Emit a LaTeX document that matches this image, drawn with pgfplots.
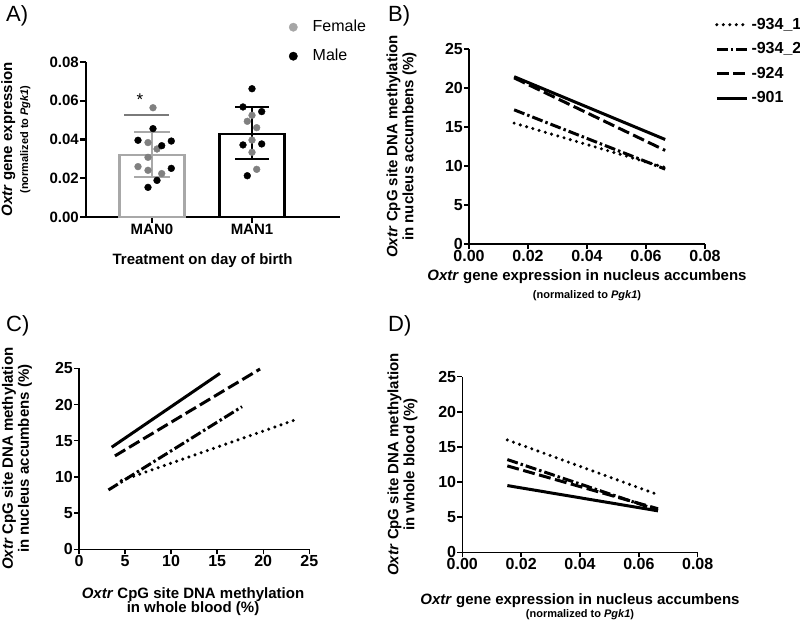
\documentclass[border=0pt]{standalone}
\usepackage{fontspec}
\setmainfont{Liberation Sans}
\usepackage{pgfplots}
\pgfplotsset{compat=1.18}

\definecolor{femgray}{HTML}{808080}
\definecolor{femleg}{HTML}{A6A6A6}
\definecolor{barg}{HTML}{A8A8A8}
\definecolor{sigg}{HTML}{7A7A7A}

\newcommand\lab{\bfseries\fontsize{15}{16}\selectfont}
\newcommand\sm{\fontsize{11}{12}\selectfont}

\pgfplotsset{
  panel/.style={
    scale only axis, clip=false,
    axis lines*=left,
    axis line style={line width=1.4pt},
    tick style={line width=1.4pt, black},
    tick align=outside, major tick length=5pt,
    /pgf/number format/assume math mode=true,
    tick label style={font=\bfseries\fontsize{16}{16}\selectfont},
    xticklabel style={inner sep=1pt},
    yticklabel style={inner sep=1pt},
    xlabel style={align=center, font=\lab, inner sep=0pt},
    ylabel style={align=center, font=\lab, inner sep=0pt},
  },
  dec/.style={/pgf/number format/.cd, fixed, fixed zerofill, precision=2},
  s1/.style={black, line width=3.4pt, line cap=round, dash pattern=on 0pt off 6.5pt},
  s2/.style={black, line width=3pt, line cap=butt, dash pattern=on 11pt off 3pt on 2.5pt off 3pt},
  s3/.style={black, line width=3pt, line cap=butt, dash pattern=on 12pt off 4.5pt},
  s4/.style={black, line width=3pt},
}

\begin{document}
\begin{tikzpicture}
\useasboundingbox (0pt,0pt) rectangle (800pt,623pt);

\node[anchor=base west, inner sep=0, font=\fontsize{22}{22}\selectfont] at (6pt,601pt) {A)};
\node[anchor=base west, inner sep=0, font=\fontsize{22}{22}\selectfont] at (388pt,601pt) {B)};
\node[anchor=base west, inner sep=0, font=\fontsize{22}{22}\selectfont] at (6pt,291pt) {C)};
\node[anchor=base west, inner sep=0, font=\fontsize{22}{22}\selectfont] at (388pt,291pt) {D)};

% ---------------- A) bar chart with points
\begin{axis}[panel,
  at={(86pt,406pt)}, anchor=south west, width=254pt, height=155pt,
  axis line style={line width=2.3pt}, tick style={line width=2.3pt, black},
  major tick length=6pt,
  tick label style={font=\bfseries\fontsize{15}{15}\selectfont},
  xmin=-0.66, xmax=1.88, ymin=0, ymax=0.08,
  xtick={0,1}, xticklabels={MAN0,MAN1},
  ytick={0,0.02,0.04,0.06,0.08}, scaled y ticks=false,
  yticklabel style={dec},
  xlabel={Treatment on day of birth},
  xlabel style={at={(axis description cs:0.459,-0.284)}, anchor=center},
  ylabel={\textit{Oxtr} gene expression\\{\sm(normalized to \textit{Pgk1})}},
  ylabel style={at={(axis description cs:-0.276,0.5)}, anchor=center},
  legend style={at={(axis description cs:0.798,1.271)}, anchor=north west,
    draw=none, fill=none, inner sep=0pt, column sep=15pt, row sep=15pt,
    font=\fontsize{16}{16}\selectfont,
    nodes={inner sep=0pt, text height=11pt, text depth=3pt}},
  legend cell align=left,
  legend image code/.code={\fill[#1] (0pt,0pt) circle (4.2pt);},
]
\addlegendimage{femleg, fill=femleg}
\addlegendentry{Female}
\addlegendimage{black, fill=black}
\addlegendentry{Male}

\addplot[ybar, bar shift=0pt, bar width=65pt, draw=barg, fill=white, line width=2.4pt, forget plot]
  coordinates {(0,0.0320)};
\addplot[ybar, bar shift=0pt, bar width=65pt, draw=black, fill=white, line width=2.4pt, forget plot]
  coordinates {(1,0.0428)};

% error bars (mean +- SD)
\addplot[barg, line width=1.8pt, forget plot] coordinates {(0,0.0206) (0,0.0437)};
\addplot[barg, line width=1.8pt, forget plot] coordinates {(-0.18,0.0437) (0.18,0.0437)};
\addplot[barg, line width=1.8pt, forget plot] coordinates {(-0.18,0.0206) (0.18,0.0206)};
\addplot[sigg, line width=1.5pt, forget plot] coordinates {(-0.28,0.0526) (0.17,0.0526)};
\addplot[black, line width=2.3pt, forget plot] coordinates {(1,0.0300) (1,0.0568)};
\addplot[black, line width=2.3pt, forget plot] coordinates {(0.83,0.0568) (1.17,0.0568)};
\addplot[black, line width=2.3pt, forget plot] coordinates {(0.83,0.0300) (1.17,0.0300)};
\node[font=\fontsize{17}{17}\selectfont] at (axis cs:-0.12,0.0605) {*};

% female
\addplot[only marks, mark=*, mark size=3.4pt, color=femgray, forget plot] coordinates {
  (0.01,0.0564) (-0.04,0.0384) (0.05,0.0351) (-0.04,0.0308) (-0.14,0.0260)
  (-0.04,0.0241) (0.097,0.0224)
  (0.953,0.0494) (1.0,0.0525) (1.047,0.0461) (1.0,0.0397) (1.0,0.0334) (1.047,0.0246)};
% male
\addplot[only marks, mark=*, mark size=3.4pt, color=black, forget plot] coordinates {
  (0.01,0.0456) (-0.14,0.0396) (0.097,0.0368) (0.193,0.0392) (0.193,0.0251)
  (0.05,0.0189) (-0.04,0.0153)
  (1.0,0.0662) (0.91,0.0568) (1.097,0.0544) (0.91,0.0372) (1.097,0.0377) (0.953,0.0213)};
\end{axis}

% ---------------- B)
\begin{axis}[panel,
  at={(469pt,379pt)}, anchor=south west, width=236pt, height=195pt,
  xmin=0, xmax=0.08, ymin=0, ymax=25,
  xtick={0,0.02,0.04,0.06,0.08}, scaled x ticks=false, xticklabel style={dec},
  ytick={0,5,10,15,20,25},
  xlabel={\textit{Oxtr} gene expression in nucleus accumbens\\[2pt]{\sm(normalized to \textit{Pgk1})}},
  xlabel style={at={(axis description cs:0.5,-0.133)}, anchor=north},
  ylabel={\textit{Oxtr} CpG site DNA methylation\\in nucleus accumbens (\%)},
  ylabel style={at={(axis description cs:-0.286,0.5)}, anchor=center},
  legend style={at={(axis description cs:1.042,1.164)}, anchor=north west,
    draw=none, fill=none, inner sep=0pt, column sep=3pt, row sep=9.5pt,
    font=\bfseries\fontsize{16}{16}\selectfont,
    nodes={inner sep=0pt, text height=12pt, text depth=3pt}},
  legend cell align=left,
  legend image code/.code={\draw[#1] (0pt,0pt) -- (30pt,0pt);},
]
\addplot[s1] coordinates {(0.0153,15.5) (0.0665,9.8)};
\addlegendentry{-934\_1}
\addplot[s2] coordinates {(0.0153,17.2) (0.0665,9.6)};
\addlegendentry{-934\_2}
\addplot[s3] coordinates {(0.0153,21.3) (0.0665,12.0)};
\addlegendentry{-924}
\addplot[s4] coordinates {(0.0153,21.45) (0.0665,13.4)};
\addlegendentry{-901}
\end{axis}

% ---------------- C)
\begin{axis}[panel,
  at={(79pt,73.7pt)}, anchor=south west, width=230.3pt, height=181pt,
  xmin=0, xmax=25, ymin=0, ymax=25,
  xtick={0,5,10,15,20,25}, ytick={0,5,10,15,20,25},
  xlabel={\textit{Oxtr} CpG site DNA methylation\\[-2pt]in whole blood (\%)},
  xlabel style={at={(axis description cs:0.495,-0.21)}, anchor=north},
  ylabel={\textit{Oxtr} CpG site DNA methylation\\in nucleus accumbens (\%)},
  ylabel style={at={(axis description cs:-0.269,0.5)}, anchor=center},
]
\addplot[s1] coordinates {(4.6,9.5) (23.3,17.8)};
\addplot[s2] coordinates {(3.2,8.2) (17.7,19.7)};
\addplot[s3] coordinates {(3.9,12.9) (19.65,24.9)};
\addplot[s4] coordinates {(3.55,14.1) (15.3,24.3)};
\end{axis}

% ---------------- D)
\begin{axis}[panel,
  at={(462.3pt,70.7pt)}, anchor=south west, width=235.4pt, height=175.6pt,
  xmin=0, xmax=0.08, ymin=0, ymax=25,
  xtick={0,0.02,0.04,0.06,0.08}, scaled x ticks=false, xticklabel style={dec},
  ytick={0,5,10,15,20,25},
  xlabel={\textit{Oxtr} gene expression in nucleus accumbens\\[-3pt]{\sm(normalized to \textit{Pgk1})}},
  xlabel style={at={(axis description cs:0.5,-0.232)}, anchor=north},
  ylabel={\textit{Oxtr} CpG site DNA methylation\\in whole blood (\%)},
  ylabel style={at={(axis description cs:-0.254,0.5)}, anchor=center},
]
\addplot[s1] coordinates {(0.0153,16.0) (0.0665,8.2)};
\addplot[s2] coordinates {(0.0153,13.2) (0.0665,6.0)};
\addplot[s3] coordinates {(0.0153,12.3) (0.0665,6.2)};
\addplot[s4] coordinates {(0.0153,9.5) (0.0665,5.9)};
\end{axis}
\end{tikzpicture}
\end{document}
